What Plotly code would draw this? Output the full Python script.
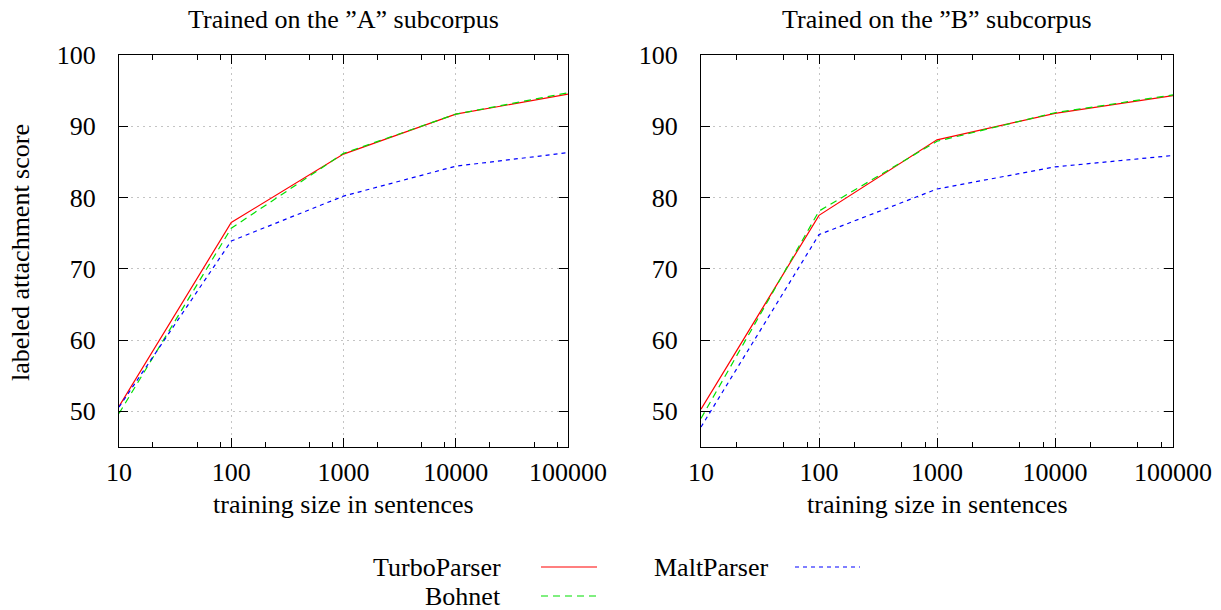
import plotly.graph_objects as go

sizes = [10, 100, 1000, 10000, 100000]
a_turbo = [50.7, 76.5, 86.1, 91.7, 94.5]
a_bohnet = [49.7, 75.7, 86.2, 91.7, 94.7]
a_malt = [50.6, 73.9, 80.2, 84.4, 86.3]
b_turbo = [50.3, 77.5, 88.1, 91.8, 94.3]
b_bohnet = [49.0, 78.1, 87.9, 91.9, 94.4]
b_malt = [47.8, 74.8, 81.2, 84.3, 85.9]

x_ticks = [10, 100, 1000, 10000, 100000]
x_ticktext = ["10", "100", "1000", "10000", "100000"]
x_minor = [m * d for d in [10, 100, 1000, 10000] for m in (2, 5, 8)]
y_ticks = [50, 60, 70, 80, 90, 100]
titles = ["Trained on the \u201dA\u201d subcorpus", "Trained on the \u201dB\u201d subcorpus"]
x_title = "training size in sentences"
y_title = "labeled attachment score"
names = ["TurboParser", "Bohnet", "MaltParser"]
colors = ["#ff0000", "#00e000", "#0000ff"]
dashes = ["solid", "7px,5px", "4px,4px"]

W, H = 1221, 610
FONT = "Liberation Serif"
FS = 26
TXT = dict(family=FONT, size=FS, color="black")

fig = go.Figure()
panels = [(a_turbo, a_bohnet, a_malt), (b_turbo, b_bohnet, b_malt)]
for i, series in enumerate(panels):
    xa = "x" if i == 0 else "x2"
    ya = "y" if i == 0 else "y2"
    for name, vals, c, d in zip(names, series, colors, dashes):
        fig.add_trace(go.Scatter(x=sizes, y=vals, mode="lines", name=name,
                                 line=dict(color=c, width=1.2, dash=d),
                                 xaxis=xa, yaxis=ya, showlegend=False))

def px_x(p):
    return p / W

def px_y(p):
    return 1 - p / H

xdoms = [[px_x(119), px_x(568)], [px_x(701), px_x(1173)]]
ydom = [px_y(447), px_y(55)]

common_x = dict(type="log", range=[1, 5], tickvals=x_ticks, ticktext=x_ticktext,
                ticks="inside", ticklen=9, tickwidth=1, tickcolor="black",
                showline=True, linecolor="black", linewidth=1.2, mirror="ticks",
                showgrid=True, gridcolor="#c4c4c4", griddash="2px,4px", gridwidth=1,
                zeroline=False, tickfont=TXT, ticklabelstandoff=2,
                minor=dict(tickvals=x_minor, ticks="inside", ticklen=5,
                           tickcolor="black", showgrid=False))
common_y = dict(range=[45, 100], tickvals=y_ticks,
                ticks="inside", ticklen=9, tickwidth=1, tickcolor="black",
                showline=True, linecolor="black", linewidth=1.2, mirror="ticks",
                showgrid=True, gridcolor="#c4c4c4", griddash="2px,4px", gridwidth=1,
                zeroline=False, tickfont=TXT, ticklabelstandoff=17)

fig.update_layout(
    width=W, height=H, autosize=False,
    margin=dict(l=0, r=0, t=0, b=0, autoexpand=False),
    plot_bgcolor="white", paper_bgcolor="white",
    font=TXT,
    xaxis=dict(common_x, domain=xdoms[0], anchor="y"),
    xaxis2=dict(common_x, domain=xdoms[1], anchor="y2"),
    yaxis=dict(common_y, domain=ydom, anchor="x"),
    yaxis2=dict(common_y, domain=ydom, anchor="x2"),
)

for i, t in enumerate(titles):
    cx = (xdoms[i][0] + xdoms[i][1]) / 2
    fig.add_annotation(text=t, xref="paper", yref="paper", x=cx, y=px_y(19),
                       xanchor="center", yanchor="middle", showarrow=False, font=TXT)
    fig.add_annotation(text=x_title, xref="paper", yref="paper", x=cx, y=px_y(504),
                       xanchor="center", yanchor="middle", showarrow=False, font=TXT)

fig.add_annotation(text=y_title, xref="paper", yref="paper", x=px_x(21), y=px_y(253),
                   xanchor="center", yanchor="middle", textangle=-90,
                   showarrow=False, font=TXT)

# legend (gnuplot style: text left of sample)
legend_pos = [(503, 567, 541, 597), (503, 596, 541, 597), (770, 567, 795, 860)]
for name, c, d, (tx, ty, x0, x1) in zip(names, colors, dashes, legend_pos):
    fig.add_annotation(text=name, xref="paper", yref="paper", x=px_x(tx), y=px_y(ty),
                       xanchor="right", yanchor="middle", showarrow=False, font=TXT)
    fig.add_shape(type="line", xref="paper", yref="paper",
                  x0=px_x(x0), x1=px_x(x1), y0=px_y(ty), y1=px_y(ty),
                  line=dict(color=c, width=1.2, dash=d))

fig.write_html("out.html", config={"displayModeBar": False},
               post_script="document.body.style.margin='0';document.body.style.overflow='hidden';")
